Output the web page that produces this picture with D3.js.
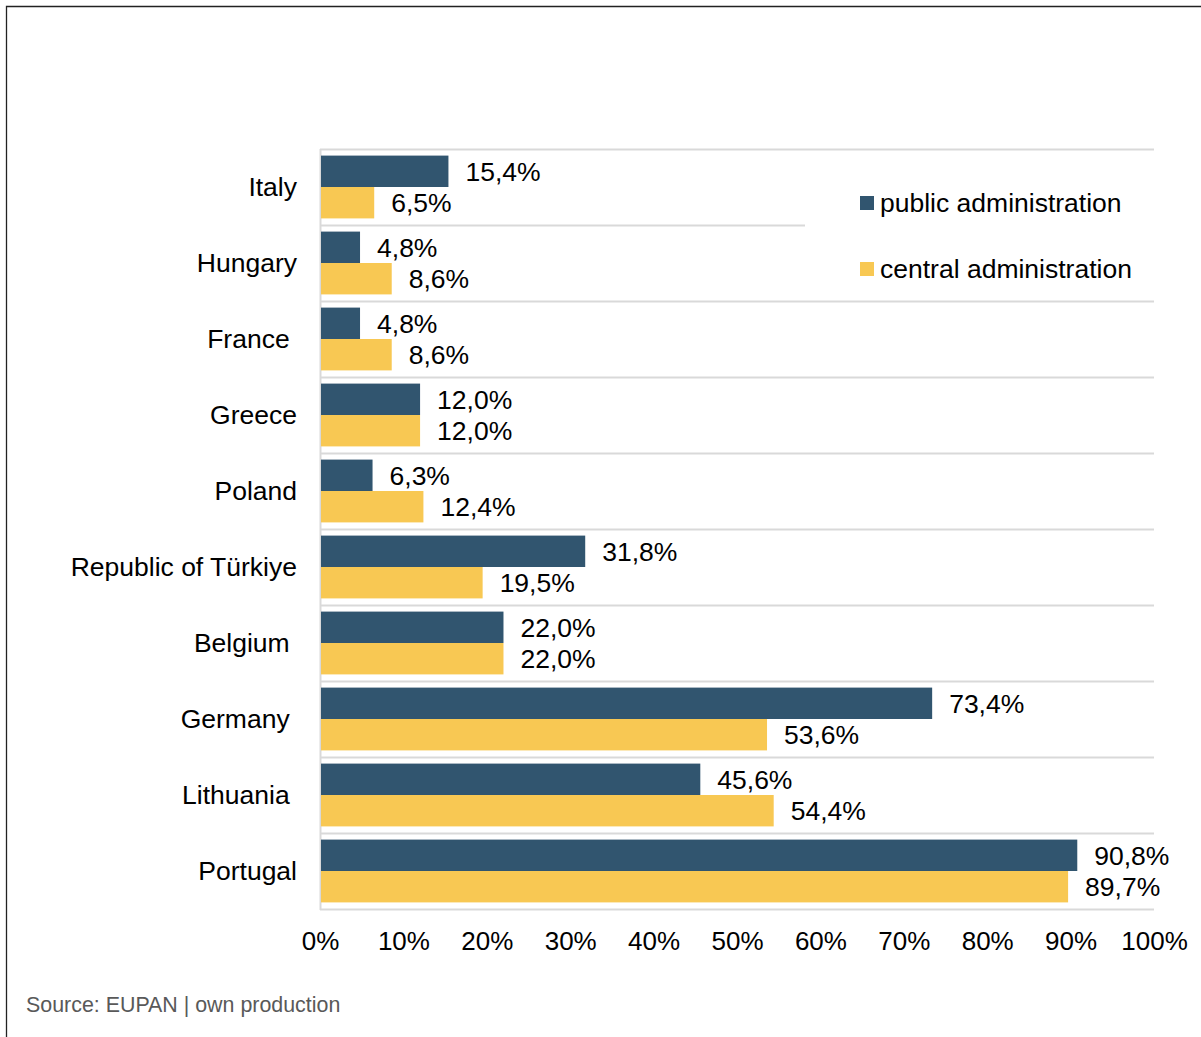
<!DOCTYPE html>
<html><head><meta charset="utf-8">
<script src="https://cdn.jsdelivr.net/npm/d3@7"></script>
<style>html,body{margin:0;padding:0;background:#fff;}svg{display:block;font-family:"Liberation Sans",Arial,sans-serif;}</style>
</head><body>
<script>
const categories = ["Italy","Hungary","France ","Greece","Poland","Republic of Türkiye","Belgium ","Germany ","Lithuania ","Portugal"];
const publicAdmin = [15.4,4.8,4.8,12.0,6.3,31.8,22.0,73.4,45.6,90.8];
const centralAdmin = [6.5,8.6,8.6,12.0,12.4,19.5,22.0,53.6,54.4,89.7];
const seriesNames = ["public administration","central administration"];
const xTicks = [0,10,20,30,40,50,60,70,80,90,100];
const sourceText = "Source: EUPAN | own production";

const W=1201,H=1037;
const colors=["#31556f","#f8c853"];
const FS=26.5;
const svg=d3.select("body").append("svg").attr("width",W).attr("height",H);
svg.append("rect").attr("width",W).attr("height",H).attr("fill","#fff");
// frame
svg.append("path").attr("d",`M6.5,${H} V6.5 H${W}`).attr("fill","none").attr("stroke","#222").attr("stroke-width",1.3);

const x=d3.scaleLinear().domain([0,100]).range([320,1154]);
const y=d3.scaleBand().domain(categories).range([149,909]).padding(0);
const inner=d3.scaleBand().domain([0,1]).range([0,y.bandwidth()]).paddingOuter(0.21).paddingInner(0);

const g=svg.append("g");
const bounds=categories.map(c=>y(c)).concat([909]);
g.selectAll("line.grid").data(bounds).join("line").attr("class","grid")
 .attr("x1",320).attr("x2",1154).attr("y1",d=>Math.round(d)+0.5).attr("y2",d=>Math.round(d)+0.5)
 .attr("stroke","#d9d9d9").attr("stroke-width",2);
g.append("line").attr("x1",320.5).attr("x2",320.5).attr("y1",149).attr("y2",910).attr("stroke","#d9d9d9").attr("stroke-width",2);

const data=categories.map((c,i)=>({c,v:[publicAdmin[i],centralAdmin[i]]}));
data.forEach(d=>{
  d.v.forEach((v,s)=>{
    g.append("rect").attr("x",x(0)+1).attr("y",y(d.c)+inner(s)).attr("width",x(v)-x(0)-1).attr("height",inner.bandwidth())
     .attr("fill",colors[s]);
    g.append("text").attr("x",x(v)+17).attr("y",y(d.c)+inner(s)+inner.bandwidth()/2).attr("dy","0.35em")
     .attr("font-size",FS).attr("fill","#000").text(v.toFixed(1).replace(".",",")+"%");
  });
  g.append("text").attr("x",297).attr("y",y(d.c)+y.bandwidth()/2).attr("dy","0.35em").attr("text-anchor","end")
   .attr("font-size",FS).attr("fill","#000").style("white-space","pre").attr("xml:space","preserve").text(d.c);
});

const xa=svg.append("g").attr("transform","translate(0,941)").call(d3.axisBottom(x).tickValues(xTicks).tickSize(0).tickFormat(d=>d+"%"));
xa.select(".domain").remove();
xa.selectAll("text").attr("font-size",26).attr("fill","#000").attr("font-family","Liberation Sans, Arial, sans-serif").attr("dy","0.35em").attr("y",0);

const lg=svg.append("g");
lg.append("rect").attr("x",805).attr("y",151).attr("width",360).attr("height",149).attr("fill","#fff");
const ly=[203,269];
seriesNames.forEach((n,i)=>{
  lg.append("rect").attr("x",860).attr("y",ly[i]-7).attr("width",14).attr("height",14).attr("fill",colors[i]);
  lg.append("text").attr("x",880).attr("y",ly[i]).attr("dy","0.35em").attr("font-size",FS).attr("fill","#000").text(n);
});

svg.append("text").attr("x",26).attr("y",1012).attr("font-size",21.4).attr("fill","#595959").text(sourceText);
</script>
</body></html>
